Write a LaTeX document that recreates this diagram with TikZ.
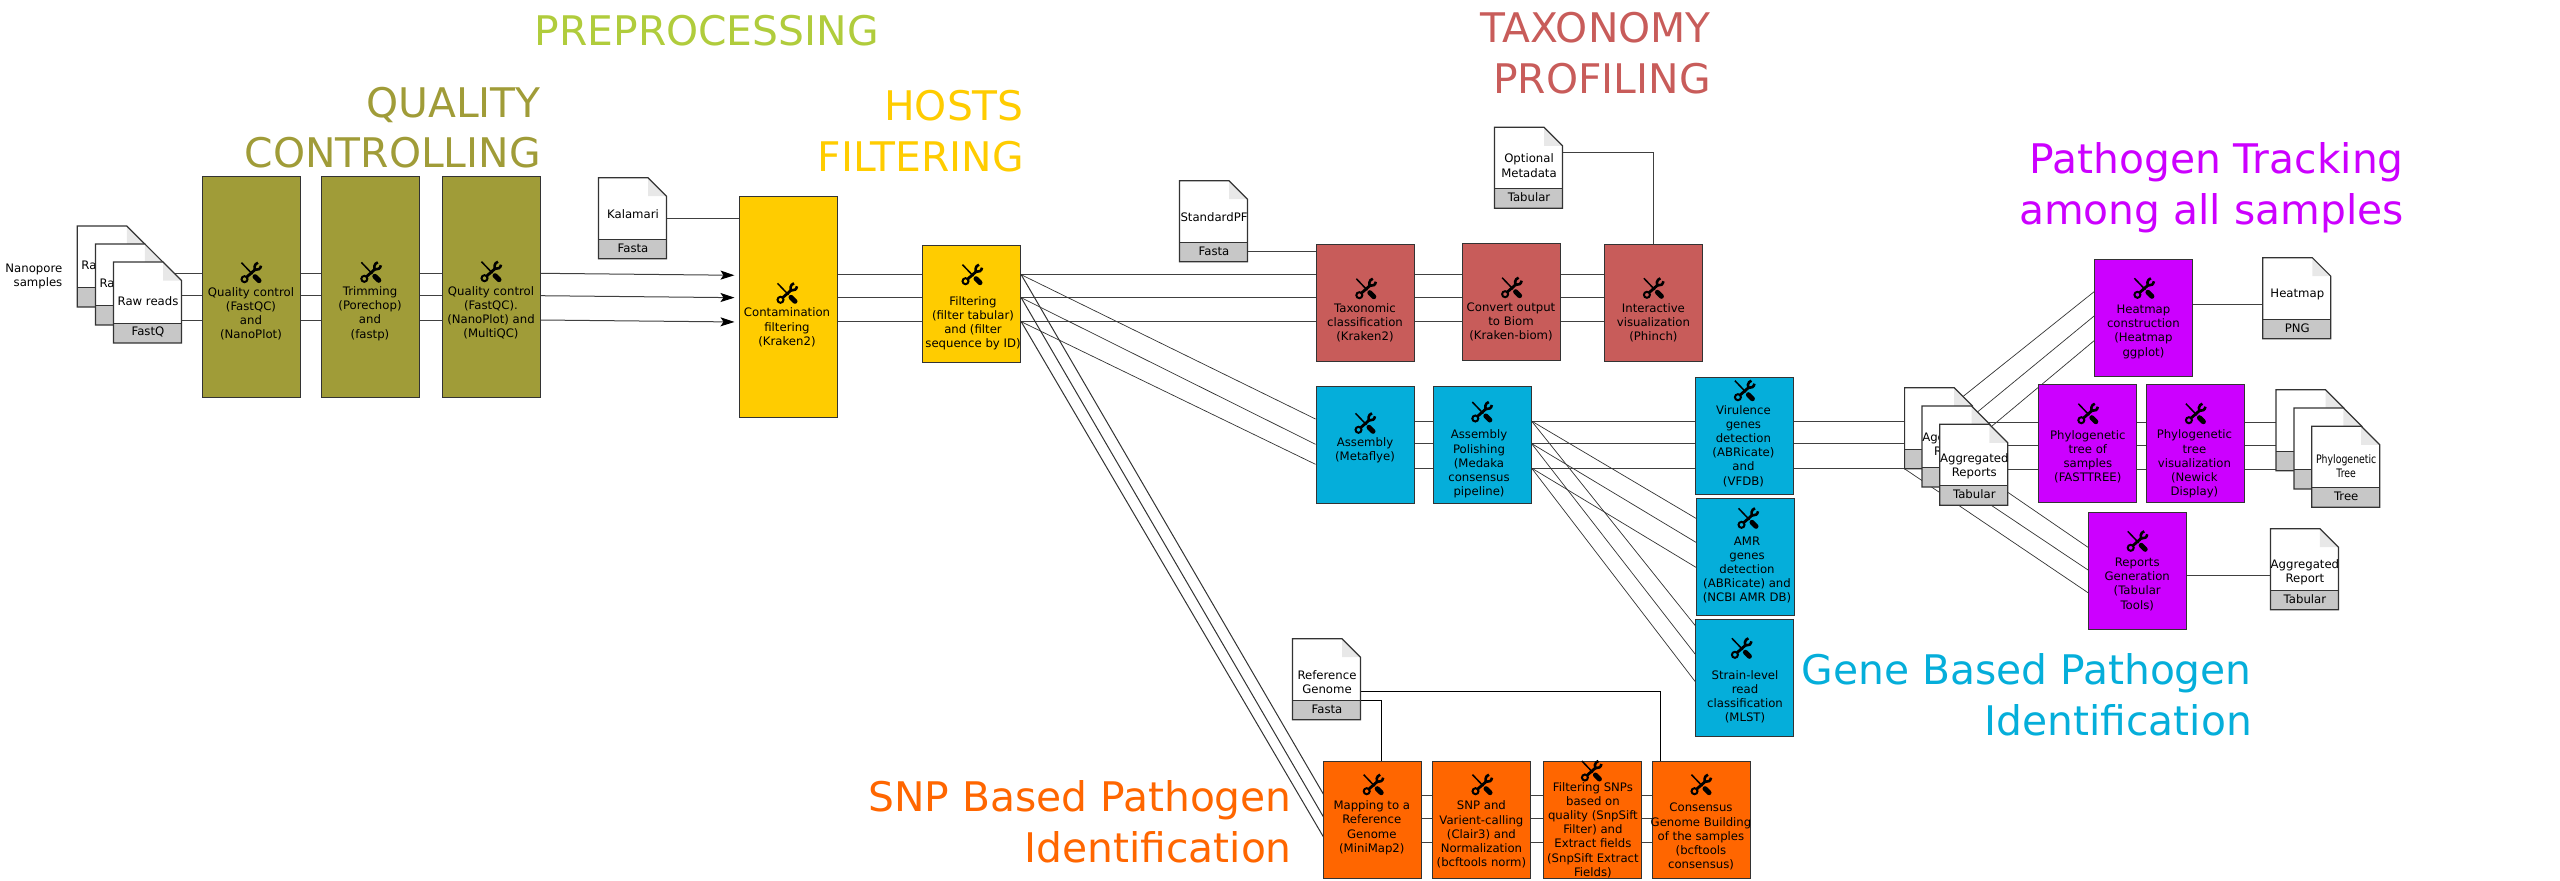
\documentclass[tikz,border=0pt]{standalone}
\usepackage{fontspec}
\setmainfont{DejaVu Sans}
\usepackage{xcolor}
\usepackage{tikz}
\usetikzlibrary{arrows,arrows.meta,positioning,shapes,calc}
\pgfdeclarelayer{background}
\pgfsetlayers{background,main}
\definecolor{preColor}{HTML}{B0CC3C}
\definecolor{qualityColor}{HTML}{A09C38}
\definecolor{hostColor}{HTML}{FFCC00}
\definecolor{taxonColor}{HTML}{C85C5A}
\definecolor{geneColor}{HTML}{05AEDA}
\definecolor{trackColor}{HTML}{CC00FF}
\definecolor{snpColor}{HTML}{FF6600}
\tikzset{
  stepbox/.style={draw=black!80, line width=1pt, minimum width=98pt, minimum height=117.4pt,
                  inner sep=0pt},
  tallbox/.style={stepbox, minimum height=221pt},
  steptext/.style={font=\fontsize{11.7}{14.2}\selectfont, align=center, inner sep=0pt},
  flow/.style={line width=1pt, black!75},
  link/.style={line width=0.7pt, black!80},
  flowarrow/.style={flow, -{Stealth[length=14pt,width=9pt,inset=3pt,black]}, shorten >=4pt},
  stagetitle/.style={font=\fontsize{40.8}{50.5}\selectfont, align=right, anchor=base east, inner sep=0pt},
  toolicon/.pic={
    \draw[line width=1.5pt] (-9.5,-10) -- (1.5,1.5);
    \draw[line width=5pt, line cap=round] (4,4) -- (8,8);
    \draw[line width=2.6pt] (7,-10) .. controls (3,-9) and (2.5,-3) .. (5,-3)
      .. controls (7,-2.8) and (9.5,-3.5) .. (10,-7);
    \draw[line width=2.8pt] (4,-3) -- (-4.5,4.5);
    \draw[line width=2pt] (-6.5,6.5) circle[radius=3];
  }
}
\newcommand{\datadoc}[6]{%
  \begin{scope}[shift={(#2,#3)}]
    \node[inner sep=0pt, minimum width=68pt, minimum height=81pt] (#1) at (34,40.5) {};
    \fill[white] (0,0) -- (49.5,0) -- (68,18.5) -- (68,81) -- (0,81) -- cycle;
    \fill[black!9] (49.5,0) -- (49.5,18.5) -- (68,18.5) -- cycle;
    \fill[black!22] (0,61.5) rectangle (68,81);
    \draw[black!80, line width=1.2pt] (0,0) -- (49.5,0) -- (68,18.5) -- (68,81) -- (0,81) -- cycle;
    \draw[black!80, line width=1.2pt] (0,61.5) -- (68,61.5);
    \node[steptext] (#1Label) at (34.5,#4) {#5};
    \node[steptext] (#1Format) at (34.5,70.3) {#6};
  \end{scope}}

\begin{document}
\begin{tikzpicture}[x=1pt, y=-1pt]
    \useasboundingbox (0,0) rectangle (2560,881);
    \def\yQa{273.3} \def\yQb{295.7} \def\yQc{320}
    \def\yTa{274.7} \def\yTb{297.7} \def\yTc{321.7}
    \def\yGa{421} \def\yGb{443.5} \def\yGc{468}
    \def\yPa{422.5} \def\yPb{445} \def\yPc{469.7}
    \def\ySa{795.3} \def\ySb{818.3} \def\ySc{842.3}

    % Stage titles
    \node[stagetitle, text=preColor, anchor=base west] (preTitle) at (534.5,45.7) {PREPROCESSING};
    \node[stagetitle, text=qualityColor] (qualityTitle) at (541,167.5) {QUALITY\\CONTROLLING};
    \node[stagetitle, text=hostColor] (hostTitle) at (1024,171) {HOSTS\\FILTERING};
    \node[stagetitle, text=taxonColor] (taxonTitle) at (1711,93) {TAXONOMY\\PROFILING};
    \node[stagetitle, text=trackColor] (trackTitle) at (2404,224) {Pathogen Tracking\\among all samples};
    \node[stagetitle, text=geneColor] (geneTitle) at (2252,735) {Gene Based Pathogen\\Identification};
    \node[stagetitle, text=snpColor] (snpTitle) at (1292,862) {SNP Based Pathogen\\Identification};

    \node[steptext, align=right, anchor=east] (samplesLabel) at (62.5,276.5) {Nanopore\\samples};

    % Input and output files
    \datadoc{rawA}{77.3}{226}{38.7}{Raw reads}{}
    \datadoc{rawB}{95.4}{244}{38.7}{Raw reads}{}
    \datadoc{rawC}{113.5}{262}{38.7}{Raw reads}{FastQ}
    \datadoc{kalamari}{598.5}{177.7}{36.5}{Kalamari}{Fasta}
    \datadoc{standardPF}{1179.5}{180.7}{36.5}{StandardPF}{Fasta}
    \datadoc{metadata}{1494.5}{127.3}{38.4}{Optional\\Metadata}{Tabular}
    \datadoc{refGenome}{1292.5}{638.7}{43.6}{Reference\\Genome}{Fasta}
    \datadoc{aggA}{1904.6}{387.7}{42}{}{}
    \datadoc{aggB}{1922}{406}{39.5}{Aggregated\\Reports}{}
    \datadoc{aggC}{1939.8}{424.3}{42}{Aggregated\\Reports}{Tabular}
    \datadoc{heatDoc}{2262.8}{257.7}{37}{Heatmap}{PNG}
    \datadoc{treeA}{2276}{389.7}{41}{}{}
    \datadoc{treeB}{2293.9}{408}{41}{}{}
    \datadoc{treeC}{2311.7}{426.3}{41}{\scalebox{.8}[1]{\begin{tabular}{@{}c@{}}Phylogenetic\\Tree\end{tabular}}}{Tree}
    \datadoc{reportDoc}{2270.4}{528.7}{43.6}{Aggregated\\Report}{Tabular}

    % Quality control and host filtering
    \node[tallbox, fill=qualityColor] (qcOne) at (251.3,287.3) {};
    \node[tallbox, fill=qualityColor] (trim) at (370.5,287.3) {};
    \node[tallbox, fill=qualityColor] (qcTwo) at (491,286.5) {};
    \node[tallbox, fill=hostColor] (contam) at (788,306.5) {};
    \node[stepbox, fill=hostColor] (filter) at (971.7,304) {};
    \node[steptext] (qcOneText) at (251,314) {Quality control\\(FastQC)\\and\\(NanoPlot)};
    \node[steptext] (trimText) at (370,313.5) {Trimming\\(Porechop)\\and\\(fastp)};
    \node[steptext] (qcTwoText) at (491,313) {Quality control\\(FastQC).\\(NanoPlot) and\\(MultiQC)};
    \node[steptext] (contamText) at (787,327.5) {Contamination\\filtering\\(Kraken2)};
    \node[steptext] (filterText) at (973,323.3) {Filtering\\(filter tabular)\\and (filter\\sequence by ID)};

    % Taxonomy profiling
    \node[stepbox, fill=taxonColor] (taxon) at (1365.8,303) {};
    \node[stepbox, fill=taxonColor] (biom) at (1511.6,301.7) {};
    \node[stepbox, fill=taxonColor] (phinch) at (1653.9,303) {};
    \node[steptext] (taxonText) at (1365,323) {Taxonomic\\classification\\(Kraken2)};
    \node[steptext] (biomText) at (1511,322) {Convert output\\to Biom\\(Kraken-biom)};
    \node[steptext] (phinchText) at (1653.4,323) {Interactive\\visualization\\(Phinch)};

    % Gene based identification
    \node[stepbox, fill=geneColor] (assembly) at (1365,445.2) {};
    \node[stepbox, fill=geneColor] (polish) at (1482,445.2) {};
    \node[stepbox, fill=geneColor] (virulence) at (1744.4,435.7) {};
    \node[stepbox, fill=geneColor] (amr) at (1745.4,556.8) {};
    \node[stepbox, fill=geneColor] (mlst) at (1744.8,678.2) {};
    \node[steptext] (assemblyText) at (1365,450.3) {Assembly\\(Metaflye)};
    \node[steptext] (polishText) at (1479,464) {Assembly\\Polishing\\(Medaka\\consensus\\pipeline)};
    \node[steptext] (virulenceText) at (1743.4,446) {Virulence\\genes\\detection\\(ABRicate)\\and\\(VFDB)};
    \node[steptext] (amrText) at (1747,570) {AMR\\genes\\detection\\(ABRicate) and\\(NCBI AMR DB)};
    \node[steptext] (mlstText) at (1745,697) {Strain-level\\read\\classification\\(MLST)};

    % Pathogen tracking
    \node[stepbox, fill=trackColor] (heatBox) at (2143.6,318) {};
    \node[stepbox, fill=trackColor] (phylo) at (2087.8,443.3) {};
    \node[stepbox, fill=trackColor] (newick) at (2195.4,443.3) {};
    \node[stepbox, fill=trackColor] (reportBox) at (2137.5,570.8) {};
    \node[steptext] (heatBoxText) at (2143.4,331.7) {Heatmap\\construction\\(Heatmap\\ggplot)};
    \node[steptext] (phyloText) at (2087.8,456.7) {Phylogenetic\\tree of\\samples\\(FASTTREE)};
    \node[steptext] (newickText) at (2194.4,464) {Phylogenetic\\tree\\visualization\\(Newick\\Display)};
    \node[steptext] (reportBoxText) at (2137.2,584.3) {Reports\\Generation\\(Tabular\\Tools)};

    % SNP based identification
    \node[stepbox, fill=snpColor] (mapping) at (1372.8,820) {};
    \node[stepbox, fill=snpColor] (snpCall) at (1481.8,820) {};
    \node[stepbox, fill=snpColor] (snpFilter) at (1592.8,820) {};
    \node[stepbox, fill=snpColor] (consensus) at (1701.1,820) {};
    \node[steptext] (mappingText) at (1371.8,827.7) {Mapping to a\\Reference\\Genome\\(MiniMap2)};
    \node[steptext] (snpCallText) at (1481.4,834.7) {SNP and\\Varient-calling\\(Clair3) and\\Normalization\\(bcftools norm)};
    \node[steptext] (snpFilterText) at (1592.9,830) {Filtering SNPs\\based on\\quality (SnpSift\\Filter) and\\Extract fields\\(SnpSift Extract\\Fields)};
    \node[steptext] (consensusText) at (1701,836.7) {Consensus\\Genome Building\\of the samples\\(bcftools\\consensus)};

    % Tool icons
    \foreach \ix/\iy in {251/272.7, 370.8/272.3, 491/271.7, 787/293.3, 972/274.7,
        1365.8/288.7, 1511.6/287.7, 1653.4/288.3, 1365/423.3, 1481.8/412,
        1744.4/390.7, 1748/518.3, 1741.4/648.3, 2143.9/288.3, 2087.8/413.7,
        2195.4/413.7, 2137.2/541.3, 1373.2/784.7, 1482/784.7, 1591.4/771, 1701/784.7}
      \pic at (\ix,\iy) {toolicon};

    % Connectors, all behind the boxes and files
    \begin{pgfonlayer}{background}
      \foreach \a/\b in {rawC/qcOne, qcOne/trim, trim/qcTwo}
        \foreach \y in {\yQa,\yQb,\yQc}
          \draw[flow] (\a.center |- 0,\y) -- (\b.center |- 0,\y);
      \draw[flowarrow] (qcTwo.east |- 0,\yQa) -- (contam.west |- 0,275.3);
      \draw[flowarrow] (qcTwo.east |- 0,\yQb) -- (contam.west |- 0,297.7);
      \draw[flowarrow] (qcTwo.east |- 0,\yQc) -- (contam.west |- 0,322);
      \draw[flow] (kalamari.center |- 0,218) -- (contam.west |- 0,218);
      \foreach \a/\b in {contam/filter, filter/taxon, taxon/biom, biom/phinch}
        \foreach \y in {\yTa,\yTb,\yTc}
          \draw[flow] (\a.center |- 0,\y) -- (\b.center |- 0,\y);
      \draw[flow] (standardPF.center |- 0,251.7) -- (taxon.west |- 0,251.7);
      \draw[flow] (metadata.center |- 0,152.7) -| (phinch.north);
      \draw[link] (filter.east |- 0,\yTa) -- (assembly.west |- 0,419);
      \draw[link] (filter.east |- 0,\yTb) -- (assembly.west |- 0,444.3);
      \draw[link] (filter.east |- 0,\yTc) -- (assembly.west |- 0,464.3);
      \draw[link, line width=1pt] (filter.east |- 0,\yTa) -- (mapping.west |- 0,794);
      \draw[link, line width=1pt] (filter.east |- 0,\yTb) -- (mapping.west |- 0,816.7);
      \draw[link, line width=1pt] (filter.east |- 0,\yTc) -- (mapping.west |- 0,836.7);
      \foreach \a/\b in {assembly/polish, polish/virulence, virulence/aggA}
        \foreach \y in {\yGa,\yGb,\yGc}
          \draw[flow] (\a.center |- 0,\y) -- (\b.center |- 0,\y);
      \draw[link] (polish.east |- 0,\yGa) -- (amr.west |- 0,518.3);
      \draw[link] (polish.east |- 0,\yGb) -- (amr.west |- 0,542.3);
      \draw[link] (polish.east |- 0,\yGc) -- (amr.west |- 0,567.3);
      \draw[link] (polish.east |- 0,\yGa) -- (mlst.west |- 0,625.7);
      \draw[link] (polish.east |- 0,\yGb) -- (mlst.west |- 0,654.3);
      \draw[link] (polish.east |- 0,\yGc) -- (mlst.west |- 0,681.7);
      \draw[link] (aggA.center |- 0,416) -- (heatBox.west |- 0,291.7);
      \draw[link] (aggB.center |- 0,429.6) -- (heatBox.west |- 0,316);
      \draw[link] (aggC.center |- 0,441.2) -- (heatBox.west |- 0,340.7);
      \draw[link] (aggA.west |- 0,468.7) -- (reportBox.west |- 0,592.7);
      \draw[link] (aggB.center |- 0,481.7) -- (reportBox.west |- 0,570);
      \draw[link] (aggC.center |- 0,469) -- (reportBox.west |- 0,547.3);
      \foreach \a/\b in {aggC/phylo, phylo/newick, newick/treeA}
        \foreach \y in {\yPa,\yPb,\yPc}
          \draw[flow] (\a.center |- 0,\y) -- (\b.center |- 0,\y);
      \draw[flow] (heatBox.east |- 0,304.3) -- (heatDoc.center |- 0,304.3);
      \draw[flow] (reportBox.east |- 0,575) -- (reportDoc.center |- 0,575);
      \foreach \a/\b in {mapping/snpCall, snpCall/snpFilter, snpFilter/consensus}
        \foreach \y in {\ySa,\ySb,\ySc}
          \draw[flow] (\a.center |- 0,\y) -- (\b.center |- 0,\y);
      \draw[flow, black] (refGenome.center |- 0,691) -| (1660.4,0 |- consensus.north);
      \draw[flow, black] (refGenome.center |- 0,700.3) -| (1381.4,0 |- mapping.north);
    \end{pgfonlayer}
  \end{tikzpicture}
\end{document}
